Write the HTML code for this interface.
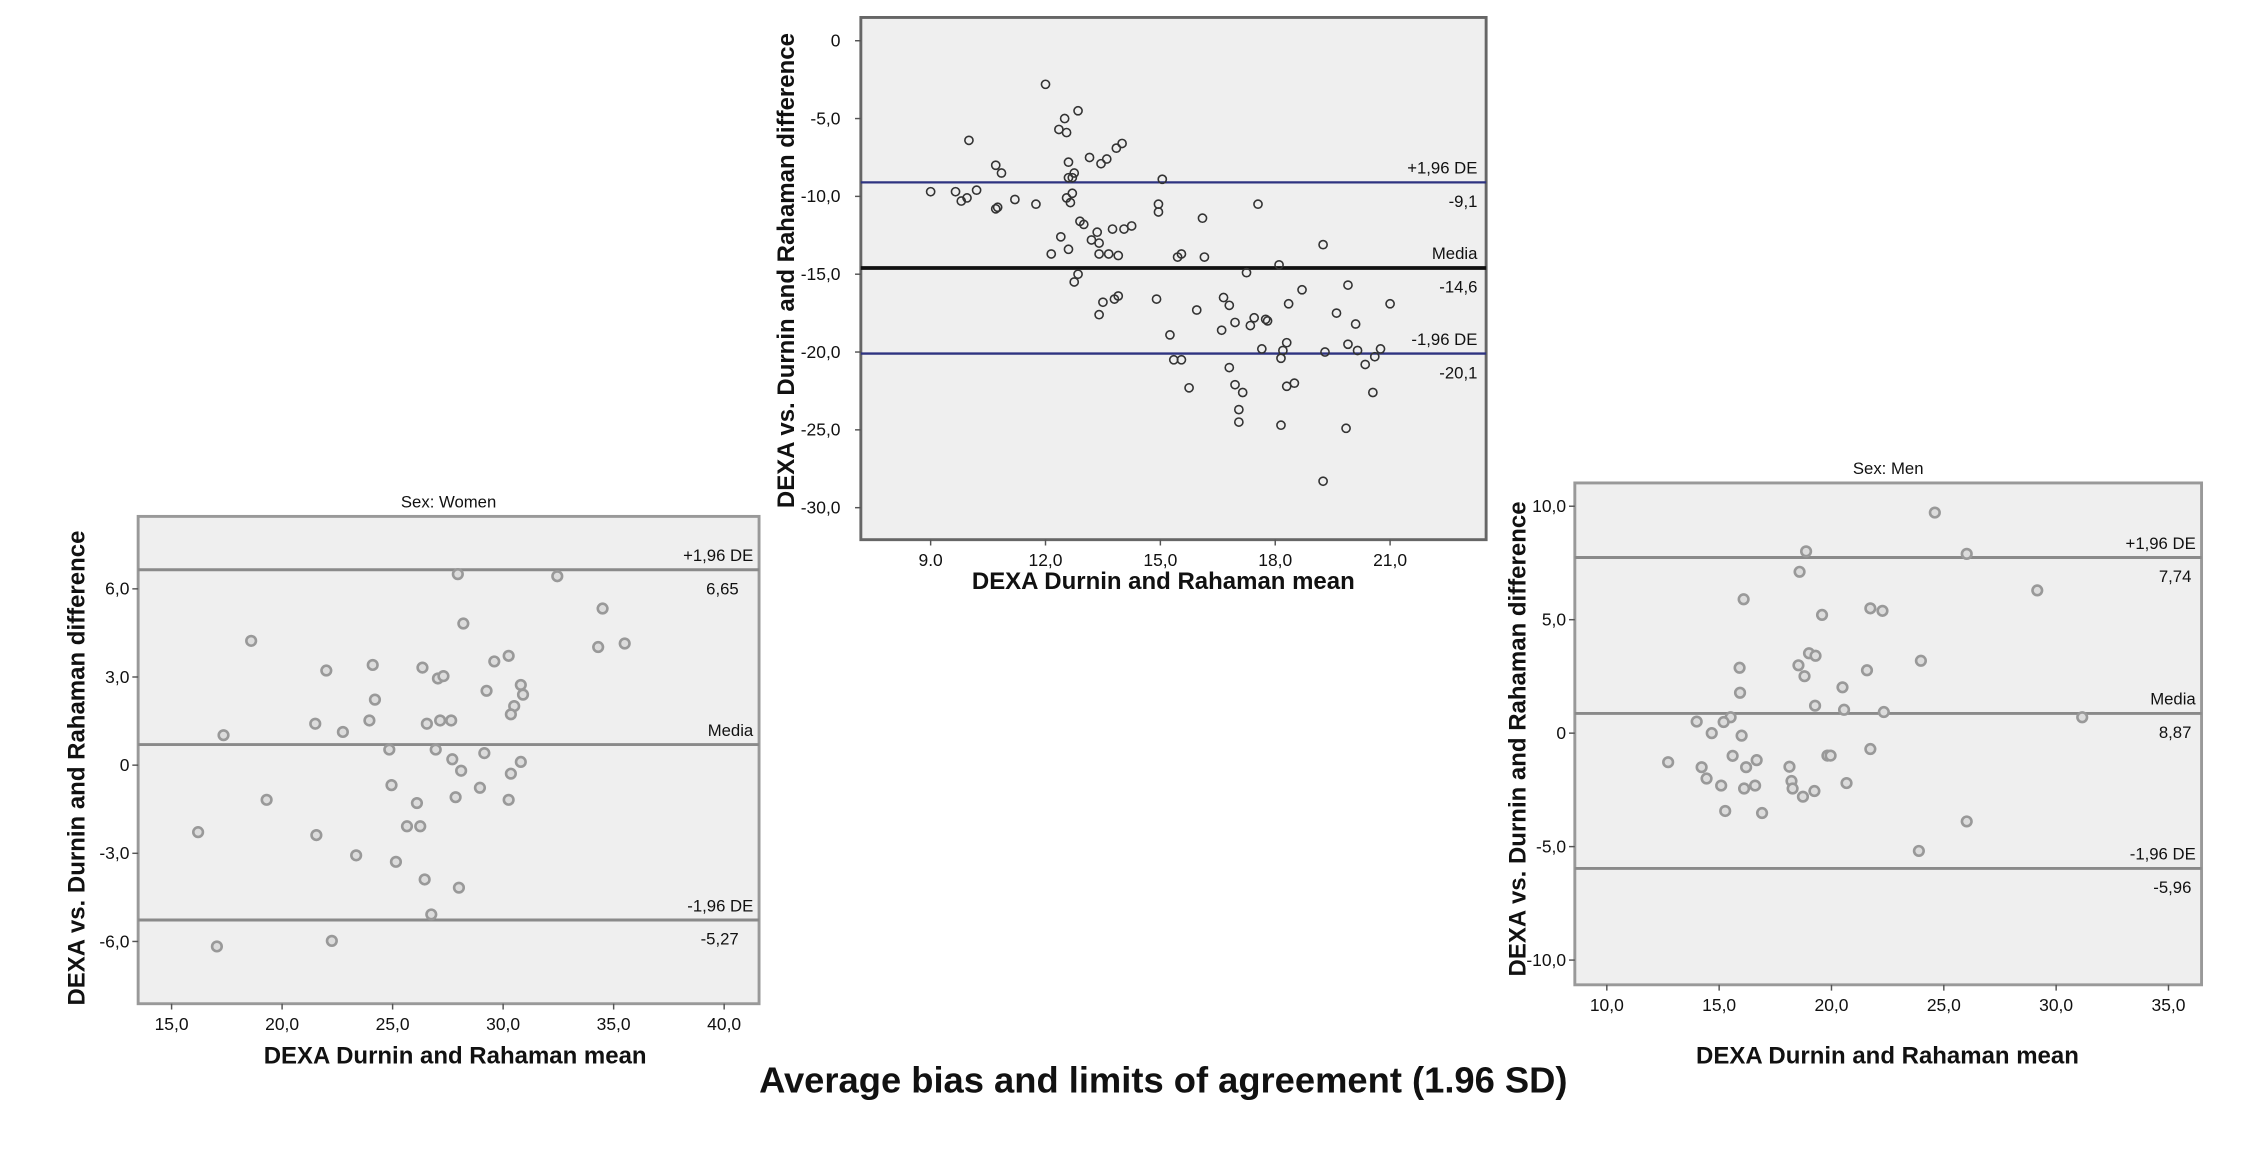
<!DOCTYPE html>
<html><head><meta charset="utf-8"><style>
html,body{margin:0;padding:0;background:#fff;}
svg{display:block;font-family:"Liberation Sans",Arial,sans-serif;}
</style></head><body>
<svg id="fig" width="2251" height="1155" viewBox="0 0 1548 794" preserveAspectRatio="none" xmlns="http://www.w3.org/2000/svg">
<text x="800" y="751" text-anchor="middle" font-size="25" font-weight="bold" fill="#111">Average bias and limits of agreement (1.96 SD)</text>
</svg>
<script>
// ---------- DATA ----------
const allX = [12.0,12.85,12.5,12.35,12.55,10.0,14.0,13.85,13.15,13.6,13.45,12.6,10.7,10.85,12.75,12.6,12.7,15.05,9.0,9.65,10.2,9.8,9.95,11.2,11.75,10.7,10.75,12.7,12.55,12.65,14.95,14.95,17.55,16.1,12.9,13.0,13.75,14.05,14.25,12.4,13.35,13.2,13.4,19.25,12.6,12.15,13.4,13.65,13.9,15.45,15.55,16.15,18.1,17.25,12.85,12.75,19.9,18.7,14.9,13.9,13.8,13.5,13.4,16.65,16.8,18.35,21.0,15.95,19.6,17.45,17.75,17.8,16.95,17.35,20.1,16.6,15.25,18.3,19.9,20.75,17.65,18.2,19.3,20.15,18.15,20.6,15.35,15.55,16.8,20.35,15.75,16.95,17.15,18.5,18.3,20.55,17.05,17.05,18.15,19.85,19.25];
const allY = [-2.8,-4.5,-5.0,-5.7,-5.9,-6.4,-6.6,-6.9,-7.5,-7.6,-7.9,-7.8,-8.0,-8.5,-8.5,-8.8,-8.8,-8.9,-9.7,-9.7,-9.6,-10.3,-10.1,-10.2,-10.5,-10.8,-10.7,-9.8,-10.1,-10.4,-10.5,-11.0,-10.5,-11.4,-11.6,-11.8,-12.1,-12.1,-11.9,-12.6,-12.3,-12.8,-13.0,-13.1,-13.4,-13.7,-13.7,-13.7,-13.8,-13.9,-13.7,-13.9,-14.4,-14.9,-15.0,-15.5,-15.7,-16.0,-16.6,-16.4,-16.6,-16.8,-17.6,-16.5,-17.0,-16.9,-16.9,-17.3,-17.5,-17.8,-17.9,-18.0,-18.1,-18.3,-18.2,-18.6,-18.9,-19.4,-19.5,-19.8,-19.8,-19.9,-20.0,-19.9,-20.4,-20.3,-20.5,-20.5,-21.0,-20.8,-22.3,-22.1,-22.6,-22.0,-22.2,-22.6,-23.7,-24.5,-24.7,-24.9,-28.3];
const allLimits = [-9.1,-14.6,-20.1];
const allXTicks = [9,12,15,18,21];
const allXTickLabels = ["9.0","12,0","15,0","18,0","21,0"];
const allYTicks = [0,-5,-10,-15,-20,-25,-30];
const allYTickLabels = ["0","-5,0","-10,0","-15,0","-20,0","-25,0","-30,0"];

const womenX = [27.95,32.45,34.5,28.2,18.6,34.3,35.5,30.25,29.6,24.1,22.0,26.35,27.05,27.3,30.8,30.9,29.25,24.2,30.5,30.35,21.5,23.95,26.55,27.15,27.65,22.75,17.35,24.85,26.95,29.15,27.7,30.8,28.1,30.35,24.95,28.95,19.3,27.85,30.25,26.1,16.2,21.55,25.65,26.25,23.35,25.15,26.45,28.0,26.75,22.25,17.05];
const womenY = [6.5,6.43,5.33,4.82,4.23,4.02,4.14,3.72,3.53,3.41,3.22,3.32,2.95,3.03,2.73,2.4,2.53,2.23,2.01,1.73,1.41,1.52,1.41,1.52,1.52,1.13,1.02,0.53,0.53,0.41,0.2,0.11,-0.19,-0.29,-0.68,-0.77,-1.18,-1.09,-1.18,-1.29,-2.28,-2.38,-2.08,-2.08,-3.07,-3.29,-3.89,-4.17,-5.08,-5.98,-6.17];
const womenLimits = [6.65,0.7,-5.27];
const womenXTicks = [15,20,25,30,35,40];
const womenXTickLabels = ["15,0","20,0","25,0","30,0","35,0","40,0"];
const womenYTicks = [6,3,0,-3,-6];
const womenYTickLabels = ["6,0","3,0","0","-3,0","-6,0"];

const menX = [24.6,18.87,26.02,18.58,29.16,16.09,19.58,21.73,22.27,19.0,19.29,23.98,15.91,18.53,18.8,21.58,20.49,15.93,19.27,20.56,22.33,31.16,15.51,14.0,15.2,14.67,16.0,15.6,19.82,19.96,21.73,12.73,14.22,16.2,16.67,18.13,14.44,15.09,16.6,16.11,18.22,18.27,19.24,18.73,20.67,15.27,16.91,26.02,23.89];
const menY = [9.72,8.01,7.9,7.11,6.29,5.9,5.21,5.5,5.39,3.52,3.41,3.19,2.88,2.99,2.51,2.77,2.02,1.78,1.21,1.03,0.93,0.7,0.7,0.51,0.49,0,-0.11,-1.0,-0.99,-0.99,-0.7,-1.28,-1.5,-1.5,-1.19,-1.48,-2.0,-2.31,-2.31,-2.44,-2.11,-2.44,-2.55,-2.8,-2.2,-3.43,-3.52,-3.89,-5.19];
const menLimits = [7.74,0.87,-5.96];
const menXTicks = [10,15,20,25,30,35];
const menXTickLabels = ["10,0","15,0","20,0","25,0","30,0","35,0"];
const menYTicks = [10,5,0,-5,-10];
const menYTickLabels = ["10,0","5,0","0","-5,0","-10,0"];

const limitLabels = ["+1,96 DE","Media","-1,96 DE"];
const allLimitValueLabels = ["-9,1","-14,6","-20,1"];
const womenLimitValueLabels = ["6,65","",""  ];
const womenLimitValueLabels2 = ["6,65","","-5,27"];
const menLimitValueLabels = ["7,74","8,87","-5,96"];

// ---------- DRAW ----------
const svg = document.getElementById('fig');
const NS = 'http://www.w3.org/2000/svg';
function mk(tag, attrs, parent){
  const e = document.createElementNS(NS, tag);
  for (const k in attrs) e.setAttribute(k, attrs[k]);
  (parent||svg).appendChild(e);
  return e;
}

function drawChart(cfg){
  const g = mk('g', {});
  
  
  const sx = v => cfg.x0px + (v - cfg.x0) * cfg.xs;
  const sy = v => cfg.y0px - (v - cfg.y0) * cfg.ys;
  const bg = mk('rect', {x:cfg.box[0], y:cfg.box[1], width:cfg.box[2]-cfg.box[0], height:cfg.box[3]-cfg.box[1], fill:'#efefef', stroke:cfg.border, 'stroke-width':2}, g);
  
  
  if (cfg.title){
    const t = mk('text', {x:(cfg.box[0]+cfg.box[2])/2, y:cfg.box[1]-6, 'text-anchor':'middle', 'font-size':11.5, fill:'#111'}, g);
    t.textContent = cfg.title;
    
    
  }
  cfg.xTicks.forEach((v,i)=>{
    const x = sx(v);
    mk('line', {x1:x, x2:x, y1:cfg.box[3], y2:cfg.box[3]+4, stroke:'#555', 'stroke-width':1}, g);
    const t = mk('text', {x:x, y:cfg.box[3]+18, 'text-anchor':'middle', 'font-size':12, fill:'#111'}, g);
    t.textContent = cfg.xTickLabels[i];
    
    
  });
  cfg.yTicks.forEach((v,i)=>{
    const y = sy(v);
    mk('line', {x1:cfg.box[0]-4, x2:cfg.box[0], y1:y, y2:y, stroke:'#555', 'stroke-width':1}, g);
    const t = mk('text', {x:cfg.box[0]-cfg.ylabOff, y:y+4, 'text-anchor':'end', 'font-size':12, fill:'#111'}, g);
    t.textContent = cfg.yTickLabels[i];
    
    
  });
  cfg.limits.forEach((v,i)=>{
    const y = sy(v);
    const l = mk('line', {x1:cfg.box[0], x2:cfg.box[2], y1:y, y2:y, stroke: i===1?cfg.meanColor:cfg.limColor, 'stroke-width': i===1?cfg.meanW:cfg.limW}, g);
    
    
    const t1 = mk('text', {x:cfg.box[2]-cfg.lblRight, y:y-6, 'text-anchor':'end', 'font-size':11.5, fill:'#111'}, g);
    t1.textContent = limitLabels[i];
    
    
    if (cfg.valLabels[i]){
      const t2 = mk('text', {x:cfg.box[2]-cfg.valRight, y:y+17, 'text-anchor':'end', 'font-size':11.5, fill:'#111'}, g);
      t2.textContent = cfg.valLabels[i];
      
      
    }
  });
  cfg.xs_data.forEach((v,i)=>{
    const c = mk('circle', {cx:sx(v), cy:sy(cfg.ys_data[i]), r:cfg.r, fill:cfg.ptFill, stroke:cfg.ptStroke, 'stroke-width':cfg.ptW}, g);
    
    
  });
  const xt = mk('text', {x:cfg.xTitle[0], y:cfg.xTitle[1], 'text-anchor':'middle', 'font-size':16.5, 'font-weight':'bold', fill:'#111'}, g);
  xt.textContent = 'DEXA Durnin and Rahaman mean';
  
  
  const yt = mk('text', {x:0, y:0, 'text-anchor':'middle', 'font-size':16.5, 'font-weight':'bold', fill:'#111', transform:`translate(${cfg.yTitle[0]},${cfg.yTitle[1]}) rotate(-90)`}, g);
  yt.textContent = 'DEXA vs. Durnin and Rahaman difference';
  
  
}

drawChart({name:'all-subjects-chart', box:[592,12,1022,371], border:'#666',
  x0:9, x0px:640, xs:26.33, y0:0, y0px:28, ys:10.7,
  xTicks:allXTicks, xTickLabels:allXTickLabels, yTicks:allYTicks, yTickLabels:allYTickLabels, ylabOff:14,
  limits:allLimits, limColor:'#2e3380', limW:1.6, meanColor:'#111', meanW:2.6, lblRight:6, valRight:6, valLabels:allLimitValueLabels,
  xs_data:allX, ys_data:allY, r:2.8, ptFill:'none', ptStroke:'#333', ptW:1.1,
  xTitle:[800,405], yTitle:[546,186]});

drawChart({name:'women-chart', title:'Sex: Women', box:[95,355,522,690], border:'#999',
  x0:15, x0px:118, xs:15.2, y0:0, y0px:526, ys:20.2,
  xTicks:womenXTicks, xTickLabels:womenXTickLabels, yTicks:womenYTicks, yTickLabels:womenYTickLabels, ylabOff:6,
  limits:womenLimits, limColor:'#8a8a8a', limW:2, meanColor:'#8a8a8a', meanW:2, lblRight:4, valRight:14, valLabels:womenLimitValueLabels2,
  xs_data:womenX, ys_data:womenY, r:3.3, ptFill:'#dcdcdc', ptStroke:'#999', ptW:1.8,
  xTitle:[313,731], yTitle:[58,528]});

drawChart({name:'men-chart', title:'Sex: Men', box:[1083,332,1514,677], border:'#999',
  x0:10, x0px:1105, xs:15.45, y0:0, y0px:504, ys:15.6,
  xTicks:menXTicks, xTickLabels:menXTickLabels, yTicks:menYTicks, yTickLabels:menYTickLabels, ylabOff:6,
  limits:menLimits, limColor:'#8a8a8a', limW:2, meanColor:'#8a8a8a', meanW:2, lblRight:4, valRight:7, valLabels:menLimitValueLabels,
  xs_data:menX, ys_data:menY, r:3.3, ptFill:'#dcdcdc', ptStroke:'#999', ptW:1.8,
  xTitle:[1298,731], yTitle:[1049,508]});
</script>
</body></html>
